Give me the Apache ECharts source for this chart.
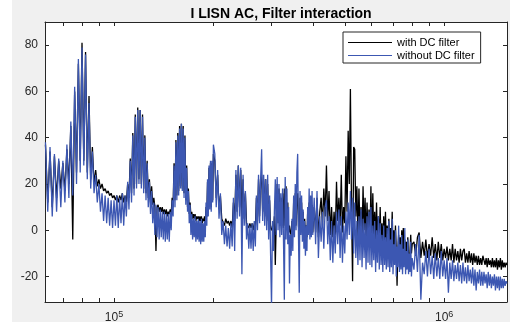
<!DOCTYPE html>
<html>
<head>
<meta charset="utf-8">
<script src="https://cdn.jsdelivr.net/npm/echarts@6/dist/echarts.min.js"></script>
<style>
html, body { margin: 0; padding: 0; background: #fff; }
#chart { width: 510px; height: 322px; }
</style>
</head>
<body>
<div id="chart"></div>
<script>
// frequency in kHz, one row = 10 samples
var freqKHz = [
	62,63,64,65,66,67,68,69,70,71,72,73,74,75,76,77,78,79,80,81,82,83,84,85,86,87,88,89,90,91,92,93,94,95,96,97,98,99,100,
	101,102,103,104,105,106,107,108,109,110,
	111,112,113,114,115,116,117,118,119,120,
	121,122,123,124,125,126,127,128,129,130,
	131,132,133,134,135,136,137,138,139,140,
	141,142,143,144,145,146,147,148,149,150,
	151,152,153,154,155,156,157,158,159,160,
	161,162,163,164,165,166,167,168,169,170,
	171,172,173,174,175,176,177,178,179,180,
	181,182,183,184,185,186,187,188,189,190,
	191,192,193,194,195,196,197,198,199,200,
	202,204,206,208,210,212,214,216,218,220,
	222,224,226,228,230,232,234,236,238,240,
	242,244,246,248,250,252,254,256,258,260,
	262,264,266,268,270,272,274,276,278,280,
	282,284,286,288,290,292,294,296,298,300,
	302,304,306,308,310,312,314,316,318,320,
	322,324,326,328,330,332,334,336,338,340,
	342,344,346,348,350,352,354,356,358,360,
	362,364,366,368,370,372,374,376,378,380,
	382,384,386,388,390,392,394,396,398,400,
	404,408,412,416,420,424,428,432,436,440,
	444,448,452,456,460,464,468,472,476,480,
	484,488,492,496,500,504,508,512,516,520,
	524,528,532,536,540,544,548,552,556,560,
	564,568,572,576,580,584,588,592,596,600,
	604,608,612,616,620,624,628,632,636,640,
	644,648,652,656,660,664,668,672,676,680,
	684,688,692,696,700,704,708,712,716,720,
	724,728,732,736,740,744,748,752,756,760,
	764,768,772,776,780,784,788,792,796,800,
	810,820,830,840,850,860,870,880,890,900,
	910,920,930,940,950,960,970,980,990,1000,
	1010,1020,1030,1040,1050,1060,1070,1080,1090,1100,
	1110,1120,1130,1140,1150,1160,1170,1180,1190,1200,
	1210,1220,1230,1240,1250,1260,1270,1280,1290,1300,
	1310,1320,1330,1340,1350,1360,1370,1380,1390,1400,
	1410,1420,1430,1440,1450,1460,1470,1480,1490,1500,
	1510,1520,1530,1540,1550
];
var withDC = [
	37,12,34,10,32,14,30,18,29,17,35,20,45,-4,60,25,72,30,81,30,77,25,58,22,36,20,26,19,22,18,20,17,18,16,17,15,16,14,15,
	13,15,12,15,13,16,12,15,12,20,
	14,31,16,42,18,50,20,53,22,52,
	20,50,18,41,16,30,14,22,12,19,
	11,14,10,-9,10,11,8,10,8,10,
	7,9,7,9,6,8,7,9,7,14,
	10,29,13,39,15,42,17,45,19,46,
	18,45,16,41,13,28,10,18,7,12,
	6,8,5,7,5,7,4,6,5,6,
	4,6,4,6,3,5,4,6,3,10,
	6,21,9,27,11,29,10,29,13,33,
	30,14,24,9,15,5,5,2,5,3,
	4,2,4,1,12,4,24,8,28,10,
	26,6,22,5,16,3,3,1,3,1,
	3,0,3,1,14,4,22,6,21,24,
	8,22,6,22,4,20,2,13,1,0,
	2,-1,6,-15,4,20,3,18,2,14,
	2,16,1,18,2,19,0,12,-1,2,
	-1,-2,4,-2,12,1,16,2,14,16,
	2,-2,14,1,12,-1,8,-3,5,-3,
	2,-3,8,0,12,-1,10,0,11,-1,
	10,-1,14,-3,8,14,2,18,6,28,
	4,17,-2,10,-3,8,-2,21,4,14,
	2,24,-1,10,3,32,8,43,20,61,
	10,-22,36,35,6,19,-3,18,-2,10,
	-3,19,0,14,-4,12,-3,9,-4,19,
	-5,16,-4,8,-5,12,-6,6,-5,10,
	-6,3,-7,6,-6,8,-7,2,-6,5,
	-8,1,-7,8,-8,0,-9,2,-8,-24,
	-8,-2,-9,-3,-10,0,-9,1,-10,-4,
	-10,-5,-9,-3,-11,-16,-9,-2,-10,-6,
	-5,-11,-3,-1,-12,-5,-11,-4,-12,-6,
	-11,-3,-12,-6,-13,-5,-12,-6,-13,-8,
	-12,-7,-13,-8,-13,-6,-14,-8,-13,-9,
	-14,-8,-13,-9,-8,-14,-10,-14,-9,-14,
	-10,-15,-10,-14,-11,-15,-11,-15,-12,-15,
	-11,-11,-15,-12,-16,-12,-15,-13,-16,-12,
	-16,-13,-16,-12,-17,-13,-16,-12,-17,-13,
	-16,-14,-16,-14,-15
];
var withoutDC = [
	38,8,36,6,33,8,31,10,30,12,37,14,47,15,62,20,74,25,79,28,76,22,55,18,34,16,24,12,20,8,16,4,15,3,14,2,13,1,13,
	2,15,1,14,3,16,2,15,6,21,
	9,30,12,41,15,49,18,52,20,52,
	18,49,16,40,13,29,10,21,7,17,
	3,12,-2,11,-3,10,-4,9,-3,8,
	-4,8,-5,7,-4,7,-5,8,0,13,
	6,28,10,38,13,41,15,44,18,46,
	17,44,14,40,11,27,8,17,3,11,
	-2,7,-4,5,-3,6,-5,4,-4,5,
	-5,4,-6,5,-5,3,-5,4,-3,12,
	2,22,6,28,9,30,8,30,12,37,
	33,10,26,5,16,-2,4,-6,2,-7,
	1,-8,3,-7,14,-9,26,5,28,6,
	27,-19,24,2,17,-4,3,-8,2,-8,
	3,-9,4,-7,15,0,24,3,22,35,
	4,24,2,22,0,24,-4,15,-10,-33,
	4,-9,8,22,-2,23,0,20,-3,16,
	-2,18,-3,-30,23,-4,18,-6,10,-23,
	-2,-11,5,-9,15,-3,20,0,25,33,
	-2,-27,17,-2,15,-5,9,-8,4,-11,
	2,-9,10,-2,18,-4,15,-3,17,-2,
	14,-6,17,-12,6,-5,8,-8,10,13,
	-6,6,-13,4,-14,2,-10,8,-6,9,
	-12,6,-14,2,-10,8,-4,12,-2,17,
	-4,14,-10,12,-12,4,-15,6,-13,9,
	-16,5,-12,3,-17,6,-14,8,-15,10,
	-16,2,-13,4,-18,0,-14,6,-17,3,
	-15,-2,-18,2,-15,-3,-17,1,-16,4,
	-18,-4,-16,5,-19,-6,-15,0,-20,-7,
	-16,2,-18,-6,-17,-2,-19,-8,-16,1,
	-19,-9,-17,-4,-19,-10,-18,-5,-20,-12,
	-17,-6,-18,-2,-30,-14,-19,-9,-20,-8,
	-19,-11,-21,-10,-20,-12,-21,-9,-20,-13,
	-21,-12,-27,-14,-21,-13,-22,-15,-21,-14,
	-22,-15,-23,-14,-22,-16,-23,-15,-22,-17,
	-23,-16,-24,-17,-26,-18,-23,-17,-24,-18,
	-24,-18,-23,-19,-25,-18,-24,-19,-25,-20,
	-24,-19,-26,-20,-25,-20,-26,-20,-25,-21,
	-25,-21,-24,-22,-23
];
var xTicks = [7e4, 8e4, 9e4, 1e5, 2e5, 3e5, 4e5, 5e5, 6e5, 7e5, 8e5, 9e5, 1e6];
var xLabels = [1e5, 1e6];
var yTicks = [-20, 0, 20, 40, 60, 80];

function pairs(vals) {
	var out = [];
	for (var i = 0; i < freqKHz.length; i++) {
		out.push([freqKHz[i] * 1000, vals[i]]);
	}
	return out;
}

var myChart = echarts.init(document.getElementById('chart'), null, { renderer: 'canvas' });
var font = 'Liberation Sans, Arial, sans-serif';
var axisColor = '#262626';

var xBase = {
	type: 'log',
	logBase: 10,
	min: 61800,
	max: 1550000,
	splitLine: { show: false },
	axisLine: { onZero: false, lineStyle: { color: axisColor, width: 1 } }
};
var yBase = {
	type: 'value',
	min: -31,
	max: 90,
	splitLine: { show: false },
	axisLine: { show: true, onZero: false, lineStyle: { color: axisColor, width: 1 } }
};

var option = {
	animation: false,
	backgroundColor: '#fff',
	graphic: [{
		type: 'rect',
		shape: { x: 12, y: 0, width: 498, height: 322 },
		style: { fill: '#f0f0f0' },
		z: -10
	}],
	title: {
		text: 'I LISN AC, Filter interaction',
		left: 276,
		top: 2,
		textAlign: 'center',
		textStyle: { fontFamily: font, fontSize: 14, fontWeight: 'bold', color: '#000' }
	},
	legend: {
		orient: 'vertical',
		left: 343,
		top: 32,
		padding: [5, 6, 2, 5],
		icon: 'rect',
		itemWidth: 44,
		itemHeight: 1,
		itemGap: 2,
		backgroundColor: '#fff',
		borderColor: axisColor,
		borderWidth: 1,
		borderRadius: 0,
		textStyle: { fontFamily: font, fontSize: 11, color: '#000' },
		data: ['with DC filter', 'without DC filter']
	},
	grid: {
		left: 45,
		right: 3,
		top: 22,
		bottom: 20,
		outerBoundsMode: 'none',
		show: true,
		backgroundColor: '#fff',
		borderWidth: 0
	},
	xAxis: [
		Object.assign({}, xBase, {
			position: 'bottom',
			axisTick: { inside: true, length: 4, customValues: xTicks, lineStyle: { color: axisColor } },
			axisLabel: {
				customValues: xLabels,
				margin: 8,
				formatter: function (v) {
					return '{b|10}{s|' + Math.round(Math.log(v) / Math.LN10) + '}';
				},
				rich: {
					b: { fontFamily: font, fontSize: 12, color: '#262626' },
					s: { fontFamily: font, fontSize: 9, color: '#262626', verticalAlign: 'bottom', padding: [0, 0, 7, 0] }
				}
			}
		}),
		Object.assign({}, xBase, {
			position: 'top',
			axisTick: { inside: true, length: 4, customValues: xTicks, lineStyle: { color: axisColor } },
			axisLabel: { show: false }
		})
	],
	yAxis: [
		Object.assign({}, yBase, {
			position: 'left',
			axisTick: { inside: true, length: 4, customValues: yTicks, lineStyle: { color: axisColor } },
			axisLabel: { customValues: yTicks, margin: 7, fontFamily: font, fontSize: 12, color: '#262626' }
		}),
		Object.assign({}, yBase, {
			position: 'right',
			axisTick: { inside: true, length: 4, customValues: yTicks, lineStyle: { color: axisColor } },
			axisLabel: { show: false }
		})
	],
	series: [
		{
			name: 'with DC filter',
			type: 'line',
			data: pairs(withDC),
			symbol: 'none',
			lineStyle: { color: '#000', width: 1.3 },
			itemStyle: { color: '#000' },
			clip: true
		},
		{
			name: 'without DC filter',
			type: 'line',
			data: pairs(withoutDC),
			symbol: 'none',
			lineStyle: { color: '#3c57b2', width: 1.3 },
			itemStyle: { color: '#3c57b2' },
			clip: true
		}
	]
};
myChart.setOption(option);
</script>
</body>
</html>
